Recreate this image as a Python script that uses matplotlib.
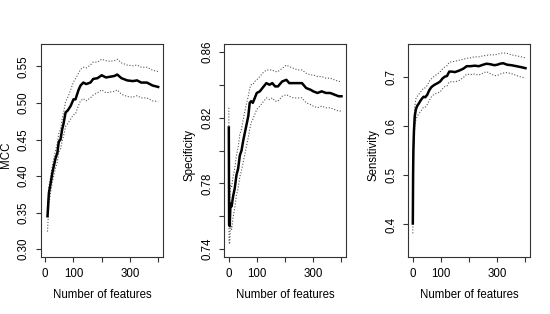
import numpy as np
import matplotlib.pyplot as plt

plt.rcParams['font.family'] = ['Liberation Sans', 'DejaVu Sans']

# MCC panel
mcc_n = [8, 13, 20, 25, 30, 37, 43, 48, 54, 60, 65, 72, 80, 90, 100, 107, 118, 125,
         135, 145, 160, 170, 185, 200, 215, 230, 245, 255, 270, 290, 310, 325, 340,
         360, 380, 400]
mcc_mean = [0.345, 0.377, 0.392, 0.404, 0.413, 0.425, 0.432, 0.447, 0.450, 0.464,
            0.472, 0.487, 0.490, 0.496, 0.505, 0.505, 0.518, 0.524, 0.528, 0.526,
            0.528, 0.533, 0.534, 0.538, 0.535, 0.536, 0.537, 0.539, 0.534, 0.531,
            0.530, 0.531, 0.528, 0.528, 0.524, 0.522]
mcc_upper = [0.352, 0.385, 0.401, 0.414, 0.424, 0.436, 0.445, 0.458, 0.464, 0.478,
             0.487, 0.502, 0.508, 0.518, 0.529, 0.533, 0.541, 0.546, 0.549, 0.548,
             0.552, 0.556, 0.556, 0.560, 0.558, 0.557, 0.558, 0.560, 0.555, 0.552,
             0.551, 0.552, 0.549, 0.549, 0.545, 0.543]
mcc_lower = [0.324, 0.362, 0.380, 0.392, 0.400, 0.412, 0.419, 0.433, 0.437, 0.448,
             0.455, 0.468, 0.472, 0.478, 0.484, 0.485, 0.497, 0.503, 0.506, 0.503,
             0.507, 0.511, 0.514, 0.518, 0.514, 0.515, 0.516, 0.518, 0.512, 0.509,
             0.508, 0.510, 0.507, 0.507, 0.503, 0.502]

# Specificity panel
spe_n = [1, 2, 4, 7, 11, 16, 22, 28, 34, 40, 46, 52, 58, 64, 70, 75, 80, 86, 93, 100,
         111, 120, 134, 145, 155, 165, 175, 190, 205, 215, 230, 245, 260, 275, 290,
         300, 315, 330, 345, 360, 375, 390, 400]
spe_mean = [0.814, 0.755, 0.754, 0.768, 0.766, 0.772, 0.777, 0.785, 0.789, 0.797,
            0.800, 0.806, 0.811, 0.816, 0.821, 0.829, 0.830, 0.829, 0.832, 0.835,
            0.836, 0.838, 0.841, 0.840, 0.841, 0.839, 0.839, 0.842, 0.843, 0.841,
            0.841, 0.841, 0.841, 0.838, 0.837, 0.836, 0.835, 0.836, 0.835, 0.835,
            0.834, 0.833, 0.833]
spe_upper = [0.826, 0.768, 0.767, 0.779, 0.778, 0.784, 0.789, 0.797, 0.802, 0.810,
             0.813, 0.819, 0.824, 0.829, 0.833, 0.838, 0.840, 0.840, 0.842, 0.843,
             0.845, 0.847, 0.849, 0.849, 0.849, 0.848, 0.848, 0.850, 0.852, 0.851,
             0.850, 0.849, 0.849, 0.847, 0.846, 0.846, 0.845, 0.845, 0.844, 0.844,
             0.843, 0.842, 0.842]
spe_lower = [0.802, 0.744, 0.743, 0.756, 0.752, 0.759, 0.765, 0.773, 0.777, 0.784,
             0.788, 0.793, 0.798, 0.803, 0.808, 0.813, 0.817, 0.819, 0.822, 0.825,
             0.827, 0.829, 0.832, 0.831, 0.832, 0.830, 0.830, 0.833, 0.834, 0.833,
             0.832, 0.832, 0.832, 0.829, 0.828, 0.827, 0.826, 0.827, 0.826, 0.826,
             0.825, 0.824, 0.824]

# Sensitivity panel
sen_n = [1, 2, 3, 5, 8, 12, 17, 22, 27, 33, 39, 45, 52, 59, 66, 72, 80, 90, 98, 106,
         115, 122, 130, 140, 150, 165, 180, 192, 205, 220, 235, 250, 262, 275, 290,
         300, 310, 321, 335, 350, 368, 385, 400]
sen_mean = [0.402, 0.500, 0.550, 0.590, 0.620, 0.634, 0.641, 0.645, 0.650, 0.655,
            0.659, 0.658, 0.663, 0.672, 0.678, 0.681, 0.684, 0.687, 0.690, 0.696,
            0.700, 0.701, 0.710, 0.710, 0.709, 0.712, 0.716, 0.721, 0.721, 0.722,
            0.721, 0.724, 0.726, 0.725, 0.723, 0.724, 0.726, 0.727, 0.724, 0.723,
            0.721, 0.719, 0.717]
sen_upper = [0.420, 0.520, 0.570, 0.610, 0.640, 0.655, 0.660, 0.664, 0.668, 0.672,
             0.677, 0.677, 0.682, 0.690, 0.695, 0.698, 0.702, 0.706, 0.710, 0.715,
             0.720, 0.722, 0.729, 0.730, 0.731, 0.733, 0.735, 0.737, 0.738, 0.740,
             0.740, 0.742, 0.743, 0.744, 0.744, 0.745, 0.747, 0.748, 0.747, 0.744,
             0.742, 0.740, 0.738]
sen_lower = [0.382, 0.480, 0.530, 0.570, 0.600, 0.613, 0.620, 0.624, 0.628, 0.633,
             0.638, 0.638, 0.643, 0.651, 0.658, 0.662, 0.665, 0.667, 0.669, 0.675,
             0.680, 0.681, 0.689, 0.690, 0.689, 0.692, 0.698, 0.705, 0.704, 0.705,
             0.703, 0.707, 0.710, 0.706, 0.702, 0.702, 0.705, 0.707, 0.708, 0.706,
             0.702, 0.699, 0.697]

panels = [
    ('MCC', mcc_n, mcc_mean, mcc_upper, mcc_lower, (0.30, 0.57),
     [0.30, 0.35, 0.40, 0.45, 0.50, 0.55], ['0.30', '0.35', '0.40', '0.45', '0.50', '0.55']),
    ('Specificity', spe_n, spe_mean, spe_upper, spe_lower, (0.74, 0.86),
     [0.74, 0.76, 0.78, 0.80, 0.82, 0.84, 0.86], ['0.74', '', '0.78', '', '0.82', '', '0.86']),
    ('Sensitivity', sen_n, sen_mean, sen_upper, sen_lower, (0.35, 0.75),
     [0.4, 0.5, 0.6, 0.7], ['0.4', '0.5', '0.6', '0.7']),
]
x_ticks = [0, 100, 200, 300, 400]
x_ticklabels = ['0', '100', '', '300', '']

W, H = 550, 314
fig = plt.figure(figsize=(W / 100, H / 100), dpi=100)
lefts = [41, 224.3, 408.3]
ax_w, top, bottom = 121.7, 44, 257

for left, (name, n, mean, upper, lower, (lo, hi), yt, ytl) in zip(lefts, panels):
    ax = fig.add_axes([left / W, (H - bottom) / H, ax_w / W, (bottom - top) / H])
    ax.plot(n, upper, color='#555555', lw=0.8, linestyle=(0, (1, 1.6)))
    ax.plot(n, lower, color='#555555', lw=0.8, linestyle=(0, (1, 1.6)))
    ax.plot(n, mean, color='black', lw=1.8)

    # R style 4% padding
    pad = 0.04 * (hi - lo)
    ax.set_ylim(lo - pad, hi + pad)
    ax.set_xlim(-15, 416)

    ax.set_xticks(x_ticks)
    ax.set_xticklabels(x_ticklabels)
    ax.set_yticks(yt)
    ax.set_yticklabels(ytl, rotation=90, va='center')
    ax.tick_params(direction='out', length=3.6, width=0.8, pad=4.5,
                   labelsize=8.3, color='#333333')
    for s in ax.spines.values():
        s.set_color('#333333')
        s.set_linewidth(0.8)

    ax.set_xlabel('Number of features', fontsize=8.3, va='center')
    ax.xaxis.set_label_coords(0.5, -38 / (bottom - top))
    ax.set_ylabel(name, fontsize=8.3, va='center')
    ax.yaxis.set_label_coords(-35 / ax_w, (bottom - 155) / (bottom - top))

plt.savefig('out.png', dpi=100)
